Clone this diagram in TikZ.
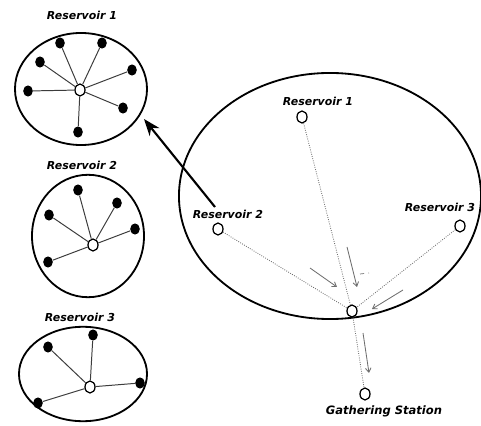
\documentclass[tikz,border=0pt]{standalone}
\usepackage{fontspec}
\setmainfont{DejaVu Sans}
\usepackage{tikz}
\usetikzlibrary{arrows.meta,positioning,shapes.geometric}
\definecolor{FlowGray}{HTML}{6E6E6E}
\definecolor{SpokeGray}{HTML}{3C3C3C}

\begin{document}
\begin{tikzpicture}[x=0.025cm,y=-0.025cm,
  tank/.style={draw,line width=1.3pt},
  hub/.style={ellipse,draw,line width=0.9pt,fill=white,inner sep=0pt,minimum width=0.25cm,minimum height=0.3cm},
  well/.style={ellipse,fill=black,inner sep=0pt,minimum width=0.24cm,minimum height=0.28cm},
  spoke/.style={draw=SpokeGray,line width=0.7pt},
  pipe/.style={draw=FlowGray,line width=0.6pt,densely dotted},
  flow/.style={draw=FlowGray,line width=0.6pt,-{Straight Barb[length=3pt,width=4pt]}},
  tag/.style={font=\fontsize{7.8}{9}\selectfont\bfseries\itshape,inner sep=1pt}]
\useasboundingbox (0,0) rectangle (481,426);

% field overview
\draw[tank] (330,196) ellipse [x radius=3.775cm,y radius=3.075cm];
\node[hub] (f1) at (302,117) {};
\node[hub] (f2) at (218,229) {};
\node[hub] (f3) at (460,226) {};
\node[hub] (hubc) at (352,311) {};
\node[hub] (gs) at (365,394) {};
\node[tag] at (318,101) {Reservoir 1};
\node[tag] at (228,214) {Reservoir 2};
\node[tag] at (440,207) {Reservoir 3};
\node[tag,font=\fontsize{8.2}{9}\selectfont\bfseries\itshape] at (384,411) {Gathering Station};
\draw[pipe] (f1) -- (hubc);
\draw[pipe] (f2) -- (hubc);
\draw[pipe] (f3) -- (hubc);
\draw[pipe] (hubc) -- (gs);

% flow marks
\coordinate (m1a) at (310,268); \coordinate (m1b) at (337,287);
\coordinate (m2a) at (347,247); \coordinate (m2b) at (357,287);
\coordinate (m3a) at (403,290); \coordinate (m3b) at (372,309);
\coordinate (m4a) at (363,333); \coordinate (m4b) at (369,373);
\coordinate (m5a) at (360,274); \coordinate (m5b) at (369,273);
\draw[flow] (m1a) -- (m1b);
\draw[flow] (m2a) -- (m2b);
\draw[flow] (m3a) -- (m3b);
\draw[flow] (m4a) -- (m4b);
\draw[FlowGray,line width=0.5pt,dashed] (m5a) -- (m5b);

% reservoir 1 detail
\draw[tank] (81,89) ellipse [x radius=1.65cm,y radius=1.4cm];
\node[tag] at (82,15) {Reservoir 1};
\node[hub] (h1) at (80,90) {};
\node[well] (a1) at (60,43) {};
\node[well] (a2) at (102,43) {};
\node[well] (a3) at (40,62) {};
\node[well] (a4) at (132,70) {};
\node[well] (a5) at (28,91) {};
\node[well] (a6) at (123,108) {};
\node[well] (a7) at (78,132) {};
\draw[spoke] (h1) -- (a1) (h1) -- (a2) (h1) -- (a3) (h1) -- (a4)
  (h1) -- (a5) (h1) -- (a6) (h1) -- (a7);

% reservoir 2 detail
\draw[tank] (88,236) ellipse [x radius=1.4cm,y radius=1.53cm];
\node[tag] at (82,165) {Reservoir 2};
\node[hub] (h2) at (93,245) {};
\node[well] (b1) at (78,190) {};
\node[well] (b2) at (117,203) {};
\node[well] (b3) at (49,215) {};
\node[well] (b4) at (135,229) {};
\node[well] (b5) at (48,262) {};
\draw[spoke] (h2) -- (b1) (h2) -- (b2) (h2) -- (b3) (h2) -- (b4) (h2) -- (b5);

% reservoir 3 detail
\draw[tank] (83,374) ellipse [x radius=1.6cm,y radius=1.18cm];
\node[tag] at (80,317) {Reservoir 3};
\node[hub] (h3) at (90,387) {};
\node[well] (c1) at (93,335) {};
\node[well] (c2) at (48,347) {};
\node[well] (c3) at (140,383) {};
\node[well] (c4) at (38,403) {};
\draw[spoke] (h3) -- (c1) (h3) -- (c2) (h3) -- (c3) (h3) -- (c4);

% zoom arrow
\coordinate (zt) at (215,207);
\coordinate (zh) at (144,119);
\draw[line width=1.5pt,-{Stealth[length=12pt,width=9pt]}] (zt) -- (zh);
\end{tikzpicture}
\end{document}
